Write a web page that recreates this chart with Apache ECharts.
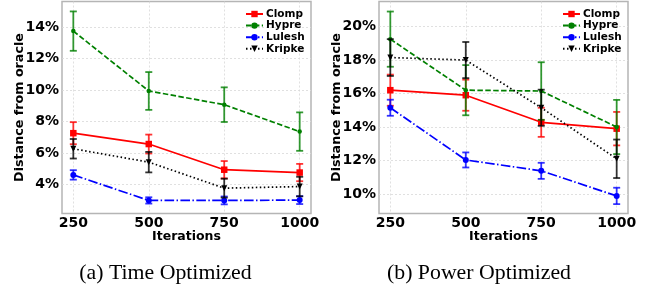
<!DOCTYPE html>
<html>
<head>
<meta charset="utf-8">
<script src="https://cdn.jsdelivr.net/npm/echarts@6/dist/echarts.min.js"></script>
<style>
html,body{margin:0;padding:0;background:#fff;}
#c{width:651px;height:291px;}
</style>
</head>
<body>
<div id="c"></div>
<script>
// ---- data ----
const iterations = [250, 500, 750, 1000];
const seriesNames = ['Clomp', 'Hypre', 'Lulesh', 'Kripke'];

// (a) Time Optimized (percent)
const timeClomp = [7.27, 6.58, 4.95, 4.77];
const timeClompErr = [0.70, 0.60, 0.55, 0.55];
const timeHypre = [13.75, 9.95, 9.08, 7.37];
const timeHypreErr = [1.25, 1.20, 1.10, 1.22];
const timeLulesh = [4.62, 3.00, 3.00, 3.02];
const timeLuleshErr = [0.30, 0.20, 0.25, 0.25];
const timeKripke = [6.28, 5.43, 3.78, 3.88];
const timeKripkeErr = [0.62, 0.65, 0.60, 0.62];

// (b) Power Optimized (percent)
const powerClomp = [16.20, 15.90, 14.28, 13.90];
const powerClompErr = [0.93, 0.93, 0.87, 1.00];
const powerHypre = [19.25, 16.20, 16.15, 14.00];
const powerHypreErr = [1.65, 1.50, 1.72, 1.62];
const powerLulesh = [15.15, 12.03, 11.38, 9.88];
const powerLuleshErr = [0.48, 0.45, 0.48, 0.49];
const powerKripke = [18.15, 18.00, 15.15, 12.10];
const powerKripkeErr = [1.10, 1.08, 1.08, 1.15];

const timeTicks = [4, 6, 8, 10, 12, 14];
const powerTicks = [10, 12, 14, 16, 18, 20];
const captions = ['(a) Time Optimized', '(b) Power Optimized'];

// ---- styles ----
const styles = {
  Clomp:  {color: '#ff0000', symbol: 'rect', size: 6.5, rotate: 0, dash: 'solid'},
  Hypre:  {color: '#008000', symbol: 'circle', size: 4.5, rotate: 0, dash: [5.5, 2.4]},
  Lulesh: {color: '#0000ff', symbol: 'circle', size: 6, rotate: 0, dash: [9.6, 2.4, 1.5, 2.4]},
  Kripke: {color: '#000000', symbol: 'triangle', size: 6, rotate: 180, dash: [1.5, 2.5]}
};

const FONT = 'DejaVu Sans';

function errorSeries(name, vals, errs, idx) {
  const col = styles[name].color;
  return {
    type: 'custom',
    name: name + ' err' + idx,
    xAxisIndex: idx, yAxisIndex: idx,
    z: 2 + seriesNames.indexOf(name),
    data: iterations.map((x, i) => [x, vals[i], errs[i]]),
    renderItem: function (params, api) {
      const x = api.value(0), y = api.value(1), e = api.value(2);
      const hi = api.coord([x, y + e]);
      const lo = api.coord([x, y - e]);
      const cap = 3.5;
      const st = {stroke: col, lineWidth: 1.8, opacity: 0.8};
      return {
        type: 'group',
        children: [
          {type: 'line', shape: {x1: hi[0], y1: hi[1], x2: lo[0], y2: lo[1]}, style: st},
          {type: 'line', shape: {x1: hi[0] - cap, y1: hi[1], x2: hi[0] + cap, y2: hi[1]}, style: st},
          {type: 'line', shape: {x1: lo[0] - cap, y1: lo[1], x2: lo[0] + cap, y2: lo[1]}, style: st}
        ]
      };
    },
    silent: true
  };
}

function lineSeries(name, vals, idx) {
  const s = styles[name];
  return {
    type: 'line',
    name: name,
    xAxisIndex: idx, yAxisIndex: idx,
    z: 2 + seriesNames.indexOf(name),
    data: iterations.map((x, i) => [x, vals[i]]),
    symbol: s.symbol,
    symbolSize: s.size,
    symbolRotate: s.rotate,
    showAllSymbol: true,
    itemStyle: {color: s.color},
    lineStyle: {color: s.color, width: 1.7, type: s.dash},
    animation: false
  };
}

const timeData = {Clomp: [timeClomp, timeClompErr], Hypre: [timeHypre, timeHypreErr], Lulesh: [timeLulesh, timeLuleshErr], Kripke: [timeKripke, timeKripkeErr]};
const powerData = {Clomp: [powerClomp, powerClompErr], Hypre: [powerHypre, powerHypreErr], Lulesh: [powerLulesh, powerLuleshErr], Kripke: [powerKripke, powerKripkeErr]};

const series = [];
[timeData, powerData].forEach((d, idx) => {
  seriesNames.forEach(n => {
    series.push(errorSeries(n, d[n][0], d[n][1], idx));
    series.push(lineSeries(n, d[n][0], idx));
  });
});

function xAxis(idx) {
  return {
    type: 'value', gridIndex: idx,
    min: 212.5, max: 1037.5,
    name: 'Iterations', nameLocation: 'middle', nameGap: 17,
    nameMoveOverlap: false,
    nameTextStyle: {fontFamily: FONT, fontWeight: 'bold', fontSize: 12.5, color: '#000'},
    axisLine: {show: false},
    axisTick: {show: false, customValues: iterations},
    axisLabel: {customValues: iterations, formatter: v => String(v), fontFamily: FONT, fontWeight: 'bold', fontSize: 14, color: '#000', margin: 3},
    splitLine: {show: true, lineStyle: {color: '#d8d8d8', type: [2, 2], width: 0.8}}
  };
}
function yAxis(idx, min, max, ticks) {
  return {
    type: 'value', gridIndex: idx,
    min: min, max: max,
    name: 'Distance from oracle', nameLocation: 'middle', nameGap: 36,
    nameMoveOverlap: false,
    nameTextStyle: {fontFamily: FONT, fontWeight: 'bold', fontSize: 12.7, color: '#000'},
    axisLine: {show: false},
    axisTick: {show: false, customValues: ticks},
    axisLabel: {customValues: ticks, formatter: v => v + '%', fontFamily: FONT, fontWeight: 'bold', fontSize: 14, color: '#000', margin: 3},
    splitLine: {show: true, lineStyle: {color: '#d8d8d8', type: [2, 2], width: 0.8}}
  };
}

function legend(left) {
  return {
    data: seriesNames,
    orient: 'vertical',
    left: left, top: 8.5,
    itemWidth: 17, itemHeight: 8, itemGap: 0.6,
    textStyle: {fontFamily: FONT, fontWeight: 'bold', fontSize: 10.5, color: '#000', lineHeight: 11, padding: [0, 0, 0, -2]},
    padding: 0,
    selectedMode: false
  };
}

const chart = echarts.init(document.getElementById('c'), null, {renderer: 'canvas'});
chart.setOption({
  animation: false,
  backgroundColor: '#fff',
  grid: [
    {left: 62, top: 1.5, width: 249, height: 212, show: true, borderColor: '#b5b5b5', borderWidth: 1.5, backgroundColor: 'transparent'},
    {left: 379, top: 1.5, width: 249, height: 212, show: true, borderColor: '#b5b5b5', borderWidth: 1.5, backgroundColor: 'transparent'}
  ],
  xAxis: [xAxis(0), xAxis(1)],
  yAxis: [yAxis(0, 2.17, 15.63, timeTicks), yAxis(1, 8.83, 21.5, powerTicks)],
  legend: [legend(245), legend(562)],
  series: series,
  graphic: [
    {type: 'text', x: 165.5, y: 273, style: {text: captions[0], font: '21.8px "Liberation Serif"', fill: '#000', textAlign: 'center', textVerticalAlign: 'middle'}},
    {type: 'text', x: 479, y: 273, style: {text: captions[1], font: '21.8px "Liberation Serif"', fill: '#000', textAlign: 'center', textVerticalAlign: 'middle'}}
  ]
});
</script>
</body>
</html>
